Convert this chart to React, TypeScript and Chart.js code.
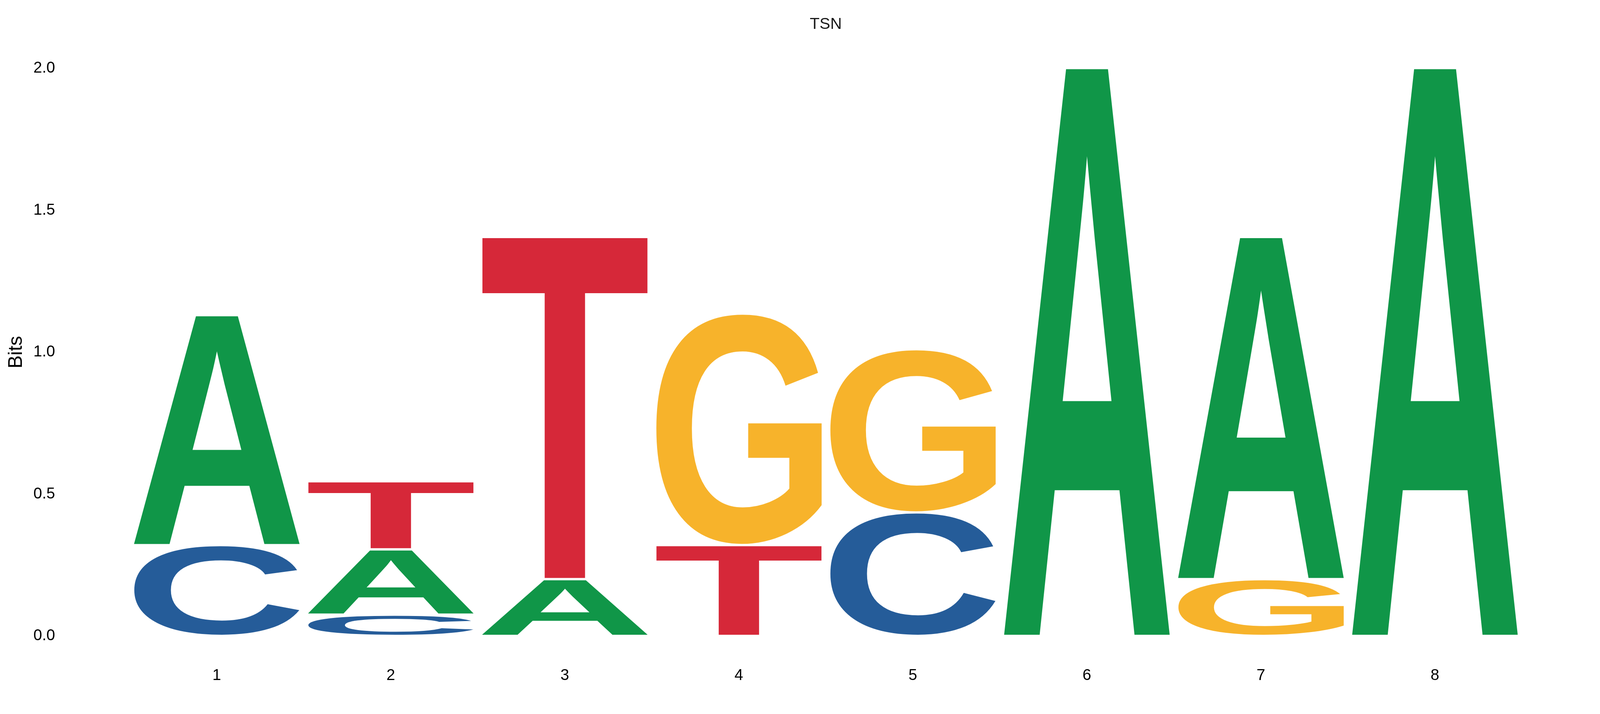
import React, { useEffect, useRef } from 'react';
import { Chart, registerables } from 'chart.js';

Chart.register(...registerables);

// sequence positions on the x axis
const positions = ['1', '2', '3', '4', '5', '6', '7', '8'];

// information (bits) carried by each base at each position
const bitsA = [0.81, 0.23, 0.2, 0, 0, 2.0, 1.205, 2.0];
const bitsC = [0.32, 0.075, 0, 0, 0.435, 0, 0, 0];
const bitsG = [0, 0, 0, 0.815, 0.575, 0, 0.2, 0];
const bitsT = [0, 0.24, 1.205, 0.32, 0, 0, 0, 0];

const yTicks = [0, 0.5, 1.0, 1.5, 2.0];

const letterColors: Record<string, string> = {
    A: '#109648',
    C: '#255C99',
    G: '#F7B32B',
    T: '#D62839',
};

const FONT = '"Liberation Sans", Arial, Helvetica, sans-serif';
const GLYPH_FONT = `bold 400px ${FONT}`;

// stack letters per column, smallest at the bottom (like a sequence logo)
const buildLayers = () => {
    const bases: [string, number[]][] = [['A', bitsA], ['C', bitsC], ['G', bitsG], ['T', bitsT]];
    const layers = bases.map(() => ({ letters: [] as string[], bits: [] as number[] }));
    positions.forEach((_, i) => {
        const col = bases
            .map(([b, arr]) => ({ b, v: arr[i] }))
            .filter(e => e.v > 0)
            .sort((p, q) => p.v - q.v);
        layers.forEach((layer, k) => {
            layer.letters.push(col[k] ? col[k].b : '');
            layer.bits.push(col[k] ? col[k].v : 0);
        });
    });
    return layers;
};

// measure the real ink box of a glyph (measureText is a bit loose)
const glyphCache: Record<string, { x0: number; y0: number; w: number; h: number }> = {};
const glyphBox = (letter: string) => {
    if (glyphCache[letter]) return glyphCache[letter];
    const size = 640;
    const ox = 120;
    const oy = 500;
    const c = document.createElement('canvas');
    c.width = size;
    c.height = size;
    const g = c.getContext('2d', { willReadFrequently: true }) as CanvasRenderingContext2D;
    g.font = GLYPH_FONT;
    g.textAlign = 'left';
    g.textBaseline = 'alphabetic';
    g.fillStyle = '#000';
    g.fillText(letter, ox, oy);
    const d = g.getImageData(0, 0, size, size).data;
    let minX = size, minY = size, maxX = -1, maxY = -1;
    for (let yy = 0; yy < size; yy++) {
        for (let xx = 0; xx < size; xx++) {
            if (d[(yy * size + xx) * 4 + 3] > 127) {
                if (xx < minX) minX = xx;
                if (xx > maxX) maxX = xx;
                if (yy < minY) minY = yy;
                if (yy > maxY) maxY = yy;
            }
        }
    }
    const box = { x0: minX - ox, y0: minY - oy, w: maxX - minX + 1, h: maxY - minY + 1 };
    glyphCache[letter] = box;
    return box;
};

// draws each base glyph stretched into its stacked bar box
const logoLettersPlugin = {
    id: 'logoLetters',
    afterDatasetsDraw(chart: any) {
        const ctx = chart.ctx as CanvasRenderingContext2D;
        const gap = 3; // small gap between stacked letters
        chart.data.datasets.forEach((ds: any, di: number) => {
            const meta = chart.getDatasetMeta(di);
            meta.data.forEach((bar: any, i: number) => {
                const letter = ds.letters[i];
                if (!letter) return;
                const { x, y, base, width } = bar.getProps(['x', 'y', 'base', 'width'], true);
                const top = Math.min(y, base) + gap;
                const h = Math.abs(base - y) - gap * 2;
                if (h < 1) return;
                const gb = glyphBox(letter);
                ctx.save();
                ctx.font = GLYPH_FONT;
                ctx.textAlign = 'left';
                ctx.textBaseline = 'alphabetic';
                ctx.translate(x - width / 2, top);
                ctx.scale(width / gb.w, h / gb.h);
                ctx.fillStyle = letterColors[letter];
                ctx.fillText(letter, -gb.x0, -gb.y0);
                ctx.restore();
            });
        });
    },
};

const App: React.FC = () => {
    const canvasRef = useRef<HTMLCanvasElement | null>(null);

    useEffect(() => {
        if (!canvasRef.current) return;
        const ctx = canvasRef.current.getContext('2d');
        if (!ctx) return;

        const layers = buildLayers();

        const chart = new Chart(ctx, {
            type: 'bar',
            data: {
                labels: positions,
                datasets: layers.map((layer, k) => ({
                    label: `layer ${k + 1}`,
                    data: layer.bits,
                    letters: layer.letters,
                    backgroundColor: 'rgba(0,0,0,0)',
                    borderWidth: 0,
                    barPercentage: 0.95,
                    categoryPercentage: 1,
                })) as any,
            },
            options: {
                animation: false,
                responsive: true,
                maintainAspectRatio: false,
                layout: {
                    padding: { left: 0, right: 192, top: 0, bottom: 66 },
                },
                plugins: {
                    legend: { display: false },
                    tooltip: { enabled: false },
                    title: {
                        display: true,
                        text: 'TSN',
                        fullSize: false,
                        color: '#1a1a1a',
                        font: { family: FONT, size: 41, weight: 'normal' },
                        padding: { top: 30, bottom: 88 },
                    },
                },
                scales: {
                    x: {
                        stacked: true,
                        grid: { display: false, drawTicks: false },
                        border: { display: false },
                        ticks: {
                            color: '#000',
                            font: { family: FONT, size: 40 },
                            padding: 78,
                        },
                        afterFit: (scale: any) => {
                            scale.height = 126;
                            scale.paddingLeft = 0;
                            scale.paddingRight = 0;
                        },
                    },
                    y: {
                        stacked: true,
                        min: 0,
                        max: 2,
                        grid: { display: false, drawTicks: false },
                        border: { display: false },
                        afterBuildTicks: (scale: any) => {
                            scale.ticks = yTicks.map(v => ({ value: v }));
                        },
                        afterFit: (scale: any) => {
                            scale.width = 324;
                            scale.paddingTop = 0;
                            scale.paddingBottom = 0;
                        },
                        ticks: {
                            color: '#000',
                            font: { family: FONT, size: 40 },
                            padding: 191,
                            callback: (v: any) => Number(v).toFixed(1),
                        },
                        title: {
                            display: true,
                            text: 'Bits',
                            color: '#000',
                            font: { family: FONT, size: 50 },
                            padding: { top: 4, bottom: 4 },
                        },
                    },
                },
            },
            plugins: [logoLettersPlugin],
        });

        return () => {
            chart.destroy();
        };
    }, []);

    return (
        <div style={{ width: '100%', height: '1813px', position: 'relative' }}>
            <canvas ref={canvasRef} />
        </div>
    );
};

export default App;
